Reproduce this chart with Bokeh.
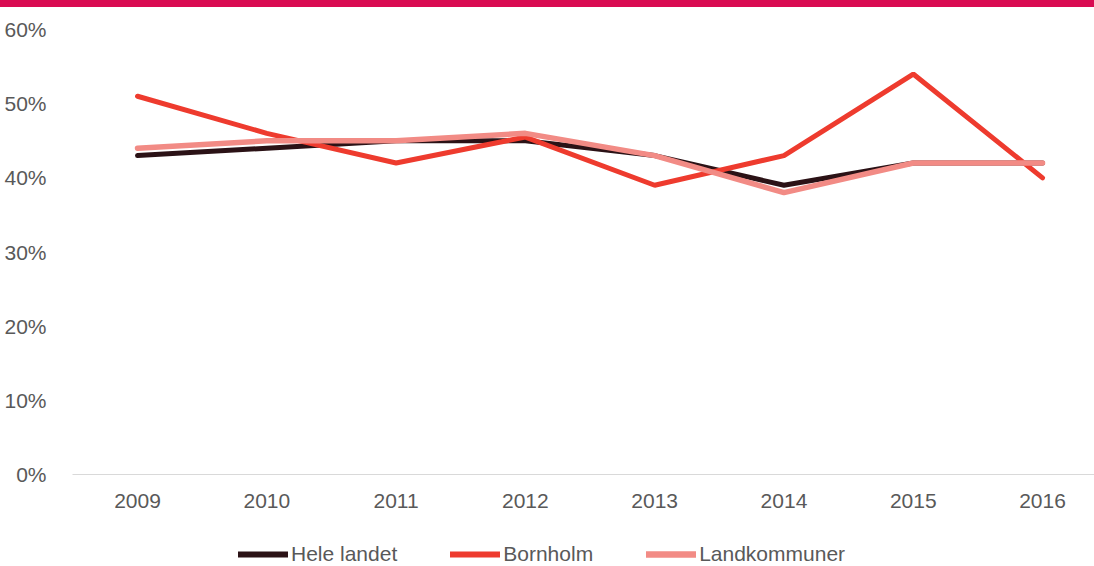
from bokeh.plotting import figure
from bokeh.models import Legend, LegendItem, FixedTicker, Range1d, Div
from bokeh.layouts import column
from bokeh.embed import file_html
from bokeh.resources import INLINE

years = [2009, 2010, 2011, 2012, 2013, 2014, 2015, 2016]
year_labels = ["2009", "2010", "2011", "2012", "2013", "2014", "2015", "2016"]
hele_landet = [43, 44, 45, 45, 43, 39, 42, 42]
bornholm = [51, 46, 42, 45.5, 39, 43, 54, 40]
landkommuner = [44, 45, 45, 46, 43, 38, 42, 42]
y_ticks = [0, 10, 20, 30, 40, 50, 60]
y_labels = ["0%", "10%", "20%", "30%", "40%", "50%", "60%"]
series_names = ["Hele landet", "Bornholm", "Landkommuner"]
colors = ["#2B1216", "#EE3B2E", "#F28B85"]
widths = [5, 5, 5.5]

FONT = "Liberation Sans"
TXT = "#595959"
W = 1094

# main chart
p = figure(width=W, height=523, output_backend="svg", toolbar_location=None,
           x_range=Range1d(2008.497, 2016.402), y_range=Range1d(0, 62.97),
           min_border_left=72, min_border_right=0, min_border_top=0, min_border_bottom=56)
p.outline_line_color = None
p.xgrid.visible = False
p.ygrid.visible = False

series = [hele_landet, bornholm, landkommuner]
for vals, col, w in zip(series, colors, widths):
    p.line(years, vals, line_color=col, line_width=w, line_cap="round")

p.xaxis.ticker = FixedTicker(ticks=years)
p.xaxis.major_label_overrides = {y: l for y, l in zip(years, year_labels)}
p.xaxis.axis_line_color = "#D9D9D9"
p.xaxis.axis_line_width = 1
p.xaxis.major_tick_line_color = None
p.xaxis.minor_tick_line_color = None
p.xaxis.major_label_standoff = 13
p.xaxis.major_label_text_font = FONT
p.xaxis.major_label_text_font_size = "21px"
p.xaxis.major_label_text_color = TXT

p.yaxis.ticker = FixedTicker(ticks=y_ticks)
p.yaxis.major_label_overrides = {t: l for t, l in zip(y_ticks, y_labels)}
p.yaxis.axis_line_color = None
p.yaxis.major_tick_line_color = None
p.yaxis.minor_tick_line_color = None
p.yaxis.major_label_standoff = 20
p.yaxis.major_label_text_font = FONT
p.yaxis.major_label_text_font_size = "21px"
p.yaxis.major_label_text_color = TXT

# legend strip (renderers share the same data; ranges keep them out of view)
lg = figure(width=W, height=36, output_backend="svg", toolbar_location=None,
            x_range=Range1d(0, 1), y_range=Range1d(1000, 1001),
            min_border_left=0, min_border_right=0, min_border_top=0, min_border_bottom=0)
lg.axis.visible = False
lg.grid.visible = False
lg.outline_line_color = None
lg_renderers = [lg.line(years, vals, line_color=col, line_width=w + 1, line_cap="round")
                for vals, col, w in zip(series, colors, widths)]
legend = Legend(items=[LegendItem(label=n, renderers=[r]) for n, r in zip(series_names, lg_renderers)],
                orientation="horizontal", location=(166, 0),
                glyph_width=50, glyph_height=20, label_standoff=3, spacing=53,
                padding=0, margin=0, border_line_color=None, background_fill_alpha=0,
                label_text_font=FONT, label_text_font_size="21px", label_text_color=TXT)
lg.add_layout(legend, "center")

top_bar = Div(text="", width=W, height=7, margin=0,
              styles={"background-color": "#D90B52"})

layout = column(top_bar, p, lg, spacing=0)

open("out.html", "w").write(file_html(layout, INLINE))
